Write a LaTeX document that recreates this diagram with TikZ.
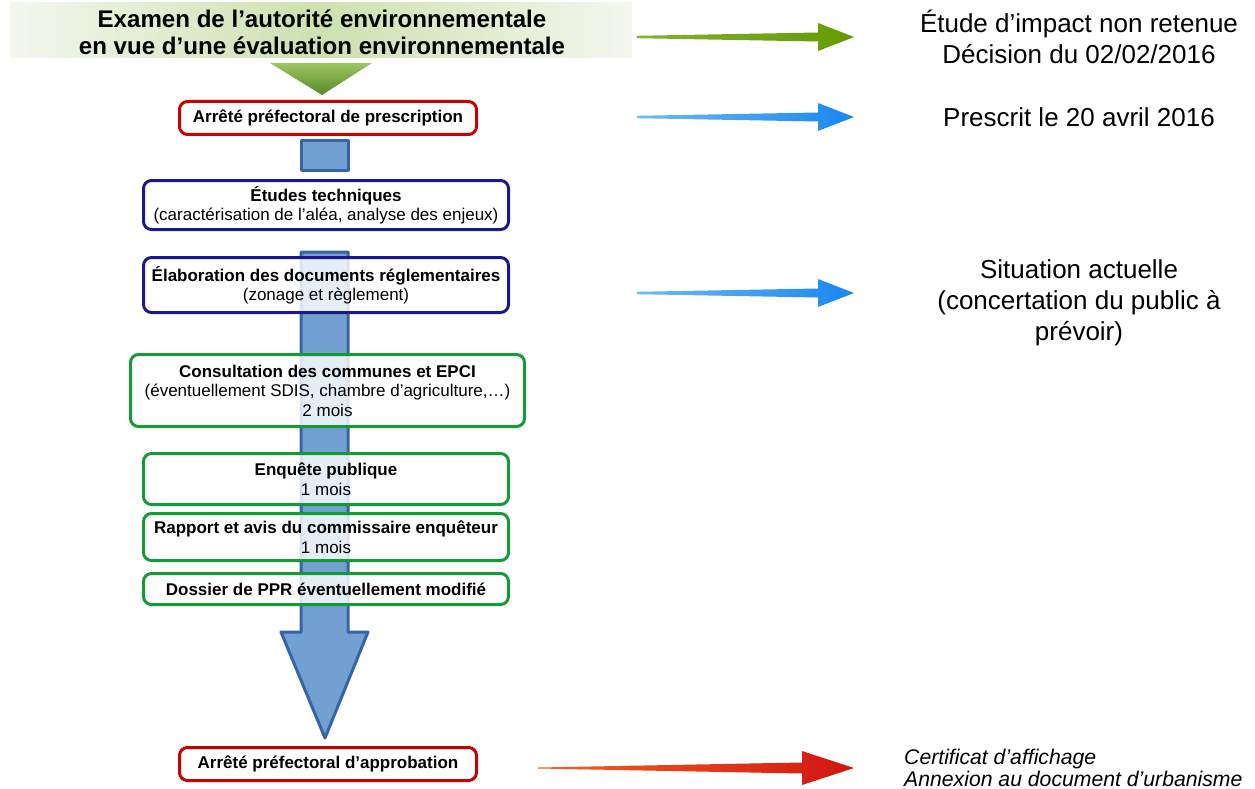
\documentclass[tikz,border=0pt]{standalone}
\usepackage{fontspec}
\setmainfont{Liberation Sans}
\definecolor{boxred}{RGB}{200,0,0}
\definecolor{boxnavy}{RGB}{25,25,140}
\definecolor{boxgreen}{RGB}{20,155,55}
\definecolor{shaftfill}{RGB}{115,160,210}
\definecolor{shaftline}{RGB}{55,100,165}
\definecolor{arrgreen}{RGB}{100,155,0}
\definecolor{arrgreenL}{RGB}{130,178,50}
\definecolor{arrblue}{RGB}{25,135,240}
\definecolor{arrblueL}{RGB}{110,185,245}
\definecolor{arrred}{RGB}{210,20,20}
\definecolor{arrredL}{RGB}{245,100,30}
\definecolor{hdrmid}{RGB}{205,225,175}
\definecolor{hdredge}{RGB}{244,247,238}
\definecolor{triL}{RGB}{155,198,98}
\definecolor{triD}{RGB}{88,138,40}
\usetikzlibrary{calc}
\newcommand\taper[8]{% x0, xh, half head, y, half shaft at tail, half shaft at head, colours
  \shade[left color=#7, right color=#8]
   (#1,#4-#5) -- (#2,#4-#6) -- (#2,#4-#3) -- ($(#2,#4)+(36,0)$) -- (#2,#4+#3) -- (#2,#4+#6) -- (#1,#4+#5) -- cycle;}
\begin{document}
\begin{tikzpicture}[x=1pt,y=-1pt,
  box/.style={draw, line width=3pt, rounded corners=8pt, fill=white, fill opacity=0.82, text opacity=1,
    align=center, inner sep=0pt, font=\fontsize{17}{19.5}\selectfont},
  rtext/.style={align=center, inner sep=0pt, font=\fontsize{26}{31}\selectfont},
  shaft/.style={fill=shaftfill, draw=shaftline, line width=3pt, line join=round}]
\useasboundingbox (0,0) rectangle (1255,789);
\fill[white] (0,0) rectangle (1255,789);

% header
\shade[left color=hdredge, right color=hdredge, middle color=hdrmid] (10,3) rectangle (632,58);
\node[align=center, inner sep=0pt, font=\fontsize{24.1}{27}\selectfont\bfseries] (hdr) at (322,32)
  {Examen de l’autorité environnementale\\en vue d’une évaluation environnementale};
\shade[top color=triL, bottom color=triD] (270,63) -- (372,63) -- (322,95) -- cycle;

% blue process arrow
\draw[shaft] (301,141) rectangle (348,170);
\draw[shaft] (301,252) -- (348,252) -- (348,632) -- (368,632) -- (325,738) -- (281,632) -- (301,632) -- cycle;

% boxes
\node[box, draw=boxred, minimum width=297, minimum height=33] (presc) at (328,118)
  {\textbf{Arrêté préfectoral de prescription}};
\node[box, draw=boxnavy, minimum width=365, minimum height=49] (etudes) at (326,205)
  {\textbf{Études techniques}\\(caractérisation de l’aléa, analyse des enjeux)};
\node[box, draw=boxnavy, minimum width=365, minimum height=55] (elab) at (326,285)
  {\textbf{Élaboration des documents réglementaires}\\(zonage et règlement)};
\node[box, draw=boxgreen, minimum width=394, minimum height=72] (consult) at (327.5,390.5)
  {\textbf{Consultation des communes et EPCI}\\(éventuellement SDIS, chambre d’agriculture,…)\\2 mois};
\node[box, draw=boxgreen, minimum width=365, minimum height=51] (enquete) at (326,479)
  {\textbf{Enquête publique}\\1 mois};
\node[box, draw=boxgreen, minimum width=365, minimum height=47] (rapport) at (326,537)
  {\textbf{Rapport et avis du commissaire enquêteur}\\1 mois};
\node[box, draw=boxgreen, minimum width=365, minimum height=31] (dossier) at (326,589)
  {\textbf{Dossier de PPR éventuellement modifié}};
\node[box, draw=boxred, minimum width=297, minimum height=33] (approb) at (328,764)
  {\textbf{Arrêté préfectoral d’approbation}};

% right side arrows
\taper{637}{818}{14}{37}{1.2}{4.5}{arrgreenL}{arrgreen}
\taper{637}{818}{14}{117}{1.2}{4.5}{arrblueL}{arrblue}
\taper{637}{818}{14}{293}{1.2}{4.5}{arrblueL}{arrblue}
\shade[left color=arrredL, right color=arrred]
  (538,767.5) -- (802,762.5) -- (802,751) -- (854,768) -- (802,785) -- (802,773.5) -- (538,768.5) -- cycle;

% right side texts
\node[rtext] (r1) at (1079,37) {Étude d’impact non retenue\\Décision du 02/02/2016};
\node[rtext] (r2) at (1079,117) {Prescrit le 20 avril 2016};
\node[rtext] (r3) at (1079,303) {Situation actuelle\\(concertation du public à\\prévoir)};
\node[align=left, inner sep=0pt, anchor=west, font=\fontsize{21.2}{22}\selectfont\itshape] (r4) at (904,768)
  {Certificat d’affichage\\Annexion au document d’urbanisme};
\end{tikzpicture}
\end{document}
